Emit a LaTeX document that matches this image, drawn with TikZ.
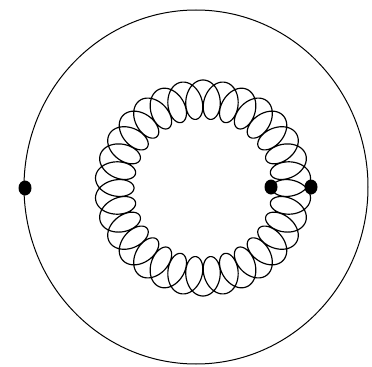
\documentclass[tikz,border=0pt]{standalone}
\begin{document}
\begin{tikzpicture}[x=0.6pt,y=-0.6pt]
            \useasboundingbox (0,0) rectangle (372,367);
            \draw[line width=0.6pt](196,187) ellipse [x radius=172,y radius=177];
            \draw[line width=0.7pt,domain=0:10800,samples=3200,smooth,variable=\t] plot({203+(88.5-19.5*cos(\t))*cos(\t/30)+12.5*sin(\t)*sin(\t/30)},{188+(88.5-19.5*cos(\t))*sin(\t/30)-12.5*sin(\t)*cos(\t/30)});
            \fill(25,188) ellipse[x radius=6.5,y radius=7.5];
            \fill(271,187) ellipse[x radius=6.5,y radius=7.5];
            \fill(311,187) ellipse[x radius=6.5,y radius=7.5];
        \end{tikzpicture}
\end{document}
